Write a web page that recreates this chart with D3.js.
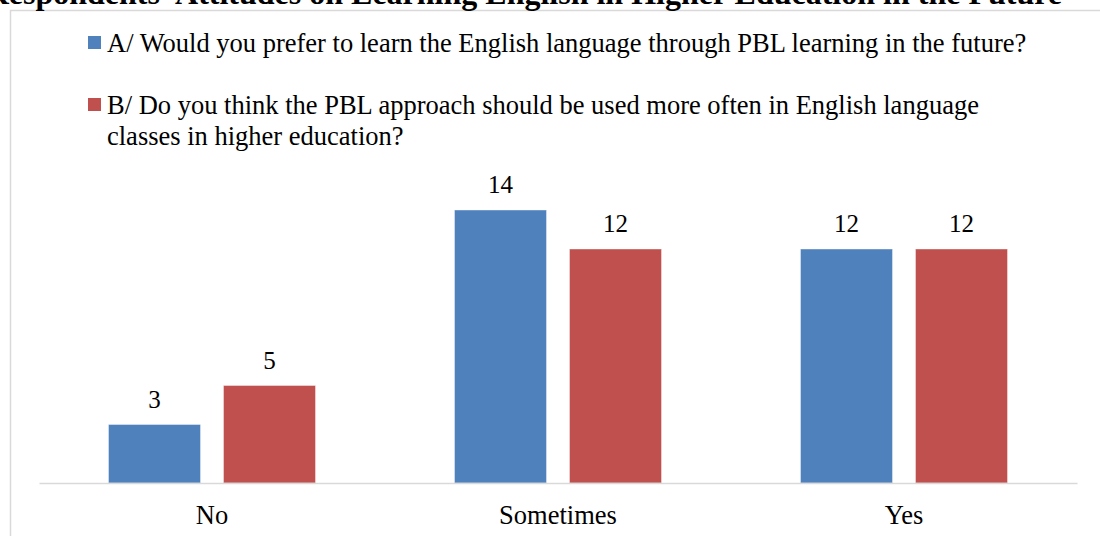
<!DOCTYPE html>
<html>
<head>
<meta charset="utf-8">
<script src="https://cdn.jsdelivr.net/npm/d3@7"></script>
<style>
  body { margin: 0; background: #fff; }
  svg { display: block; }
  svg text { font-family: "Liberation Serif", "Times New Roman", serif; fill: #000; }
</style>
</head>
<body>
<script>
// data
const categories = ['No', 'Sometimes', 'Yes']
const seriesNames = [
  'A/ Would you prefer to learn the English language through PBL learning in the future?',
  'B/ Do you think the PBL approach should be used more often in English language|classes in higher education?'
]
const seriesA = [3, 14, 12]
const seriesB = [5, 12, 12]
const colors = ['#4f81bd', '#c0504d']
const title = "Respondents' Attitudes on Learning English in Higher Education in the Future"

const W = 1100, H = 536
const plot = { left: 39, right: 1077, bottom: 483, top: 171 }
const FONT = 26.5

let svg = d3.select('body').append('svg')
  .attr('width', W).attr('height', H)

// chart frame (only left & top edges are visible in the crop)
svg.append('path')
  .attr('d', 'M10.5,' + H + 'V10.5H' + W)
  .attr('fill', 'none')
  .attr('stroke', '#d9d9d9')
  .attr('stroke-width', 1.5)

// title, clipped at top
svg.append('text')
  .attr('x', 1062).attr('y', 4)
  .attr('text-anchor', 'end')
  .attr('font-weight', 'bold')
  .attr('font-size', 32)
  .text(title)

// scales
let x0 = d3.scaleBand()
  .domain(categories)
  .range([plot.left, plot.right])
let x1 = d3.scaleBand()
  .domain([0, 1])
  .range([69.5, x0.bandwidth() - 69.5])
  .paddingInner(0.2)
let y = d3.scaleLinear()
  .domain([0, 16])
  .range([plot.bottom, plot.top])

let rows = categories.map((c, i) => ({ cat: c, vals: [seriesA[i], seriesB[i]] }))

let grp = svg.append('g').selectAll('g')
  .data(rows).join('g')
  .attr('transform', d => 'translate(' + x0(d.cat) + ',0)')

grp.selectAll('rect')
  .data(d => d.vals.map((v, k) => ({ v, k })))
  .join('rect')
  .attr('x', d => x1(d.k))
  .attr('width', x1.bandwidth())
  .attr('y', d => y(d.v))
  .attr('height', d => y(0) - y(d.v))
  .attr('fill', d => colors[d.k])
  .attr('stroke', '#fff')
  .attr('stroke-opacity', 0.4)
  .attr('stroke-width', 1)

grp.selectAll('text.val')
  .data(d => d.vals.map((v, k) => ({ v, k })))
  .join('text')
  .attr('class', 'val')
  .attr('x', d => x1(d.k) + x1.bandwidth() / 2)
  .attr('y', d => y(d.v) - 17)
  .attr('text-anchor', 'middle')
  .attr('font-size', 25)
  .text(d => d.v)

// axis
let axis = svg.append('g')
  .attr('transform', 'translate(0,' + plot.bottom + ')')
  .call(d3.axisBottom(x0).tickSize(0).tickPadding(22))
axis.select('.domain').attr('stroke', '#d9d9d9').attr('stroke-width', 1.5)
axis.selectAll('text')
  .attr('font-size', FONT)

// legend
let legendY = [52, 114]
seriesNames.forEach((name, k) => {
  let g = svg.append('g')
  g.append('rect')
    .attr('x', 88).attr('y', legendY[k] - 16)
    .attr('width', 13).attr('height', 13)
    .attr('fill', colors[k])
  let t = g.append('text')
    .attr('x', 107).attr('y', legendY[k])
    .attr('font-size', FONT)
  name.split('|').forEach((line, j) => {
    t.append('tspan').attr('x', 107).attr('dy', j ? 31 : 0).text(line)
  })
})
</script>
</body>
</html>
